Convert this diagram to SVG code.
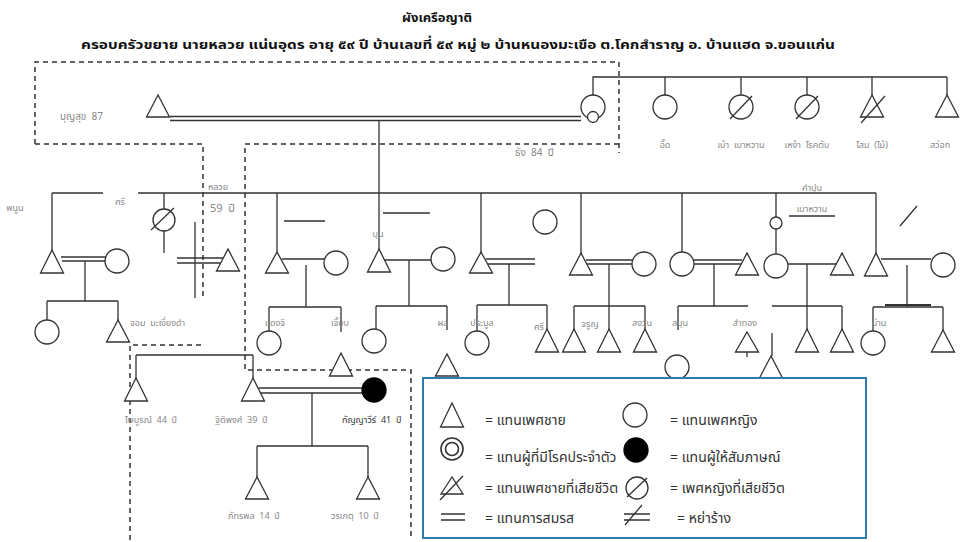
<svg xmlns="http://www.w3.org/2000/svg" width="960" height="542" viewBox="0 0 960 542">
<style>
.s{fill:none;stroke:#333;stroke-width:1.3}
.f{fill:#fff;stroke:#333;stroke-width:1.3}
.b{fill:#000;stroke:#000;stroke-width:1.3}
.d{fill:none;stroke:#333;stroke-width:1.5;stroke-dasharray:5 4}
.t{font-family:"Noto Sans Thai","Tahoma","Loma","Garuda","Noto Sans",sans-serif;white-space:pre}
.h{font-size:13px;font-weight:bold;fill:#111}
.l{font-size:9px;fill:#888}
.g{font-size:14px;fill:#333}
</style>
<rect width="960" height="542" fill="#fff"/>
<g id="title" class="t">
<text x="437" y="22" class="h" text-anchor="middle">ผังเครือญาติ</text>
<text x="458" y="49" class="h" text-anchor="middle" textLength="754" lengthAdjust="spacingAndGlyphs">ครอบครัวขยาย นายหลวย  แน่นอุดร อายุ ๕๙ ปี บ้านเลขที่ ๕๙ หมู่ ๒ บ้านหนองมะเขือ ต.โคกสำราญ อ. บ้านแฮด จ.ขอนแก่น</text>
</g>
<g id="boundaries">
<path class="d" d="M35 144 V62 H619 V153 M619 144 H245 V370 H411 V540 M35 144 H203 V297 M130 540 V345 H203"/>
</g>
<g id="connectors">
<path class="s" d="M170 116.5 H581 M170 120.5 H581 M379 120.5 V249"/>
<path class="s" d="M593 95 V77 H947 M665 77 V95 M741 77 V95 M807 77 V95 M872 77 V95 M947 77 V95"/>
<path class="s" d="M52 193 H103 M138 193 H876"/>
<path class="s" d="M52 193 V250 M164 193 V209 M164 231 V253 M277 193 V252 M481 193 V252 M581 193 V253 M682 193 V252 M776 193 V217 M776 229 V254 M876 193 V253"/>
<path class="s" d="M61 257 H106 M62 261 H106 M85 261 V301 M47 301 H118 M47 301 V320 M118 301 V320"/>
<path class="s" d="M177 258 H223 M177 263 H222 M195 222 V298"/>
<path class="s" d="M282 259 H324 M306 265 V307 M269 307 H341 M269 307 V331 M341 307 V332"/>
<path class="s" d="M284 221 H325 M383 213 H430"/>
<path class="s" d="M384 260 H431 M409 260 V306 M376 306 H447 M376 306 V329 M447 306 V330"/>
<path class="s" d="M486 259 H535 M487 264 H535 M509 264 V305 M477 305 H547 M477 305 V331 M547 305 V329"/>
<path class="s" d="M586 260 H632 M587 264 H632 M609 264 V329 M574 306 H645 M574 306 V329 M645 306 V329"/>
<path class="s" d="M694 260 H742 M694 264 H741 M714 264 V306 M678 306 H748 M678 306 V330 M747 352 V357 M772 333 V356"/>
<path class="s" d="M788 264 H837 M807 264 V329 M772 306 H842 M842 306 V329"/>
<path class="s" d="M881 259 H931 M907 265 V307 M873 307 H943 M873 307 V331 M943 307 V330"/>
<path class="s" d="M885 305 H931" style="stroke-width:2.2"/>
<path class="s" d="M900 226 L917 206 M789 216 H835"/>
<path class="s" d="M136 355 H253 M136 355 V378 M253 355 V378"/>
<path class="s" d="M259 388 H362 M260 393 H362 M312 393 V446 M257 446 H368 M257 446 V477 M368 446 V477"/>
</g>
<g id="gen1">
<g id="n-boonsuk"><polygon class="f" points="158,95 146.5,117 169.5,117"/><text x="60" y="120" class="t l" style="font-size:10px">บุญสุข  87</text></g>
<g id="n-thang"><circle class="f" cx="593" cy="107" r="12"/><circle class="f" cx="593" cy="117" r="5.5"/><text x="515" y="156" class="t l" style="font-size:10px">ธัง  84  ปี</text></g>
<g id="n-eed"><circle class="f" cx="665" cy="107" r="12"/><text x="665" y="148" class="t l" text-anchor="middle">อี๊ด</text></g>
<g id="n-bao"><circle class="f" cx="741" cy="107" r="12"/><path class="s" d="M730 119 L752 96"/><text x="741" y="148" class="t l" text-anchor="middle">เบ้า  เบาหวาน</text></g>
<g id="n-ngao"><circle class="f" cx="807" cy="107" r="12"/><path class="s" d="M796 119 L818 96"/><text x="807" y="148" class="t l" text-anchor="middle">เหง้า  โรคตับ</text></g>
<g id="n-som"><polygon class="f" points="872,95 860.5,117 883.5,117"/><path class="s" d="M861 123 L885 96"/><text x="872" y="148" class="t l" text-anchor="middle">โสม  (ไม้)</text></g>
<g id="n-sawok"><polygon class="f" points="947,95 935.5,117 958.5,117"/><text x="940" y="148" class="t l" text-anchor="middle">สว่อก</text></g>
</g>
<g id="gen2">
<g id="n-panoon"><polygon class="f" points="52,250 40.5,273 63.5,273"/><text x="15" y="211" class="t l" text-anchor="middle">พนูน</text></g>
<g id="n-sri"><circle class="f" cx="117" cy="261" r="12"/><text x="120" y="205" class="t l" text-anchor="middle">ศรี</text></g>
<g id="n-dead-f"><circle class="f" cx="164" cy="220" r="11"/><path class="s" d="M151 230 L174 208"/></g>
<g id="n-luay"><polygon class="f" points="228,249 216.5,271 239.5,271"/><text x="218" y="190" class="t l" text-anchor="middle">หลวย</text><text x="210" y="212" class="t l" style="font-size:11px">59  ปี</text></g>
<g id="n-m2"><polygon class="f" points="277,252 265.5,273 288.5,273"/></g>
<g id="n-f2"><circle class="f" cx="336" cy="263" r="12"/></g>
<g id="n-boon"><polygon class="f" points="379,249 367.5,272 390.5,272"/><text x="378" y="237" class="t l" text-anchor="middle">บุน</text></g>
<g id="n-f3"><circle class="f" cx="443" cy="259" r="12"/></g>
<g id="n-m4"><polygon class="f" points="481,252 469.5,273 492.5,273"/></g>
<g id="n-f-alone"><circle class="f" cx="545" cy="222" r="12"/></g>
<g id="n-m5"><polygon class="f" points="581,253 569.5,275 592.5,275"/></g>
<g id="n-f5"><circle class="f" cx="644" cy="264" r="12"/></g>
<g id="n-f6"><circle class="f" cx="682" cy="264" r="12"/></g>
<g id="n-m6"><polygon class="f" points="747,253 735.5,275 758.5,275"/></g>
<g id="n-kampun"><circle class="f" cx="776" cy="223" r="6"/><circle class="f" cx="776" cy="266" r="12"/><text x="812" y="191" class="t l" text-anchor="middle">คำปุน</text><text x="812" y="212" class="t l" text-anchor="middle">เบาหวาน</text></g>
<g id="n-m7"><polygon class="f" points="842,253 830.5,275 853.5,275"/></g>
<g id="n-m8"><polygon class="f" points="876,253 864.5,276 887.5,276"/></g>
<g id="n-f8"><circle class="f" cx="943" cy="265" r="12"/></g>
</g>
<g id="gen3">
<g id="c1"><circle class="f" cx="47" cy="332" r="12"/></g>
<g id="c2"><polygon class="f" points="118,320 106.5,342 129.5,342"/><text x="130" y="326" class="t l">จอม  มะเงี่ยงดำ</text></g>
<g id="c3"><circle class="f" cx="269" cy="343" r="12"/><text x="275" y="326" class="t l" text-anchor="middle">แดงจิ</text></g>
<g id="c4"><text x="340" y="326" class="t l" text-anchor="middle">เจี๊ยบ</text><polygon class="f" points="341,353 329.5,376 352.5,376"/></g>
<g id="c5"><circle class="f" cx="374" cy="341" r="12"/></g>
<g id="c6"><text x="443" y="326" class="t l" text-anchor="middle">ผล</text><polygon class="f" points="447,354 435.5,376 458.5,376"/></g>
<g id="c7"><circle class="f" cx="477" cy="343" r="12"/><text x="482" y="326" class="t l" text-anchor="middle">ประมูล</text></g>
<g id="c8"><polygon class="f" points="547,329 535.5,352 558.5,352"/><text x="539" y="330" class="t l" text-anchor="middle">ศรี</text></g>
<g id="c9"><polygon class="f" points="574,329 562.5,352 585.5,352"/><text x="590" y="327" class="t l" text-anchor="middle">จรูญ</text></g>
<g id="c10"><polygon class="f" points="609,329 597.5,352 620.5,352"/></g>
<g id="c11"><polygon class="f" points="645,329 633.5,352 656.5,352"/><text x="642" y="326" class="t l" text-anchor="middle">สงวน</text></g>
<g id="c12"><text x="680" y="326" class="t l" text-anchor="middle">สมุน</text><circle class="f" cx="677" cy="367" r="12"/></g>
<g id="c13"><polygon class="f" points="747,332 735.5,352 758.5,352"/><text x="745" y="326" class="t l" text-anchor="middle">สำทอง</text></g>
<g id="c14"><polygon class="f" points="771,356 759.5,378 782.5,378"/></g>
<g id="c15"><polygon class="f" points="807,329 795.5,352 818.5,352"/></g>
<g id="c16"><polygon class="f" points="842,329 830.5,352 853.5,352"/></g>
<g id="c17"><circle class="f" cx="873" cy="343" r="12"/><text x="879" y="326" class="t l" text-anchor="middle">ม่าน</text></g>
<g id="c18"><polygon class="f" points="943,330 931.5,352 954.5,352"/></g>
<g id="n-paiboon"><polygon class="f" points="136,378 124.5,401 147.5,401"/><text x="125" y="423" class="t l">ไพบูรณ์  44  ปี</text></g>
<g id="n-thitipong"><polygon class="f" points="253,378 241.5,401 264.5,401"/><text x="215" y="423" class="t l">ฐิติพงศ์  39  ปี</text></g>
<g id="n-kanyawee"><circle class="b" cx="374" cy="390" r="12"/><text x="342" y="423" class="t l" style="fill:#333">กัญญาวีร์  41  ปี</text></g>
</g>
<g id="gen4">
<g id="n-phattarapon"><polygon class="f" points="257,477 245.5,499 268.5,499"/><text x="228" y="519" class="t l">ภัทรพล  14  ปี</text></g>
<g id="n-worakate"><polygon class="f" points="368,477 356.5,499 379.5,499"/><text x="331" y="519" class="t l">วรเกตุ  10  ปี</text></g>
</g>
<g id="legend">
<rect x="423" y="378" width="443" height="160" fill="#fff" stroke="#2e7bb0" stroke-width="2"/>
<polygon class="f" points="452,403 440.5,427 463.5,427"/>
<text x="485" y="425" class="t g">= แทนเพศชาย</text>
<circle class="f" cx="635" cy="415" r="12"/>
<text x="670" y="425" class="t g">= แทนเพศหญิง</text>
<circle class="f" cx="452" cy="449" r="11" style="stroke-width:1.6"/><circle class="f" cx="452" cy="449" r="6.5" style="stroke-width:1.6"/>
<text x="485" y="462" class="t g">= แทนผู้ที่มีโรคประจำตัว</text>
<circle class="b" cx="636" cy="450" r="12"/>
<text x="670" y="462" class="t g">= แทนผู้ให้สัมภาษณ์</text>
<polygon class="f" points="452,477 441,494 463,494"/><path class="s" d="M440 500 L463 476"/>
<text x="485" y="493" class="t g">= แทนเพศชายที่เสียชีวิต</text>
<circle class="f" cx="637" cy="488" r="11"/><path class="s" d="M627 497 L647 478"/>
<text x="670" y="493" class="t g">= เพศหญิงที่เสียชีวิต</text>
<path class="s" d="M441 514 H465 M441 520 H465"/>
<text x="485" y="523" class="t g">= แทนการสมรส</text>
<path class="s" d="M624 514 H650 M624 520 H650 M625 525 L642 505"/>
<text x="677" y="523" class="t g">= หย่าร้าง</text>
</g>
</svg>
